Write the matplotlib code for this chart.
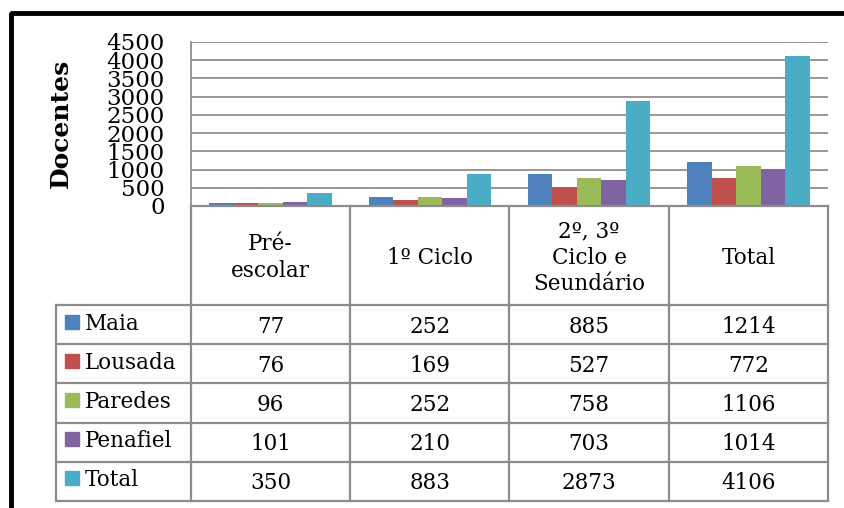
import matplotlib
matplotlib.use("Agg")
import matplotlib.pyplot as plt
import numpy as np

# data
categories = ["Pré-\nescolar", "1º Ciclo", "2º, 3º\nCiclo e\nSeundário", "Total"]
series_names = ["Maia", "Lousada", "Paredes", "Penafiel", "Total"]
maia = [77, 252, 885, 1214]
lousada = [76, 169, 527, 772]
paredes = [96, 252, 758, 1106]
penafiel = [101, 210, 703, 1014]
total = [350, 883, 2873, 4106]
yticks = [0, 500, 1000, 1500, 2000, 2500, 3000, 3500, 4000, 4500]

series = [maia, lousada, paredes, penafiel, total]
colors = ['#4F81BD', '#C0504D', '#9BBB59', '#8064A2', '#4BACC6']

W, H = 845, 508
fig = plt.figure(figsize=(W / 100, H / 100), dpi=100)
plt.rcParams['font.family'] = ['DejaVu Serif']
fs = 15.5

# plot area in pixels
px_left, px_right, px_top, px_bottom = 191, 828, 42, 206
ax = fig.add_axes([px_left / W, 1 - px_bottom / H, (px_right - px_left) / W, (px_bottom - px_top) / H])

n_cat = len(categories)
n_ser = len(series)
bw = 1 / 6.5
x = np.arange(n_cat)
for i, (vals, c) in enumerate(zip(series, colors)):
    offs = (i - (n_ser - 1) / 2) * bw
    ax.bar(x + offs, vals, width=bw, color=c, zorder=3)

ax.set_xlim(-0.5, n_cat - 0.5)
ax.set_ylim(0, 4500)
ax.set_yticks(yticks)
ax.set_yticklabels([str(t) for t in yticks], fontsize=16.5)
ax.tick_params(axis='y', length=0, pad=19)
ax.set_xticks([])
ax.grid(axis='y', color='#868686', linewidth=1.2, zorder=0)
for s in ['top', 'right', 'bottom']:
    ax.spines[s].set_visible(False)
ax.spines['left'].set_color('#868686')
ax.spines['left'].set_linewidth(1.2)

# overlay in pixel coords for table and frame
ov = fig.add_axes([0, 0, 1, 1], zorder=5)
ov.set_xlim(0, W)
ov.set_ylim(H, 0)
ov.axis('off')
ov.patch.set_alpha(0)

ov.text(61, 123, 'Docentes', rotation=90, ha='center', va='center',
        fontsize=18, fontweight='bold')

gc = '#8c8c8c'
lw = 1.6
col_w = (px_right - px_left) / n_cat
col_edges = [px_left + i * col_w for i in range(n_cat + 1)]
leg_left = 56
row_h = 39.2
rows_top = 305
row_edges = [rows_top + i * row_h for i in range(n_ser + 1)]

# header block
ov.plot([px_left, px_right], [px_bottom, px_bottom], color=gc, lw=lw)
for xe in col_edges:
    ov.plot([xe, xe], [px_bottom, row_edges[-1]], color=gc, lw=lw)
ov.plot([leg_left, leg_left], [rows_top, row_edges[-1]], color=gc, lw=lw)
for ye in row_edges:
    ov.plot([leg_left, px_right], [ye, ye], color=gc, lw=lw)

for j, cat in enumerate(categories):
    cx = (col_edges[j] + col_edges[j + 1]) / 2
    ov.text(cx, (px_bottom + rows_top) / 2 + 2, cat, ha='center', va='center',
            fontsize=fs, linespacing=1.25)

for i, (name, vals, c) in enumerate(zip(series_names, series, colors)):
    cy = (row_edges[i] + row_edges[i + 1]) / 2
    ov.add_patch(plt.Rectangle((65, cy - 10), 14, 14, color=c))
    ov.text(85, cy - 1, name, ha='left', va='center', fontsize=fs)
    for j, v in enumerate(vals):
        cx = (col_edges[j] + col_edges[j + 1]) / 2
        ov.text(cx, cy + 2, str(v), ha='center', va='center', fontsize=fs)

# black frame
ov.plot([11.5, 11.5], [12, H], color='black', lw=3.5, solid_capstyle='butt')
ov.plot([10, W], [13, 13], color='black', lw=3.5, solid_capstyle='butt')

fig.savefig('out.png', dpi=100)
